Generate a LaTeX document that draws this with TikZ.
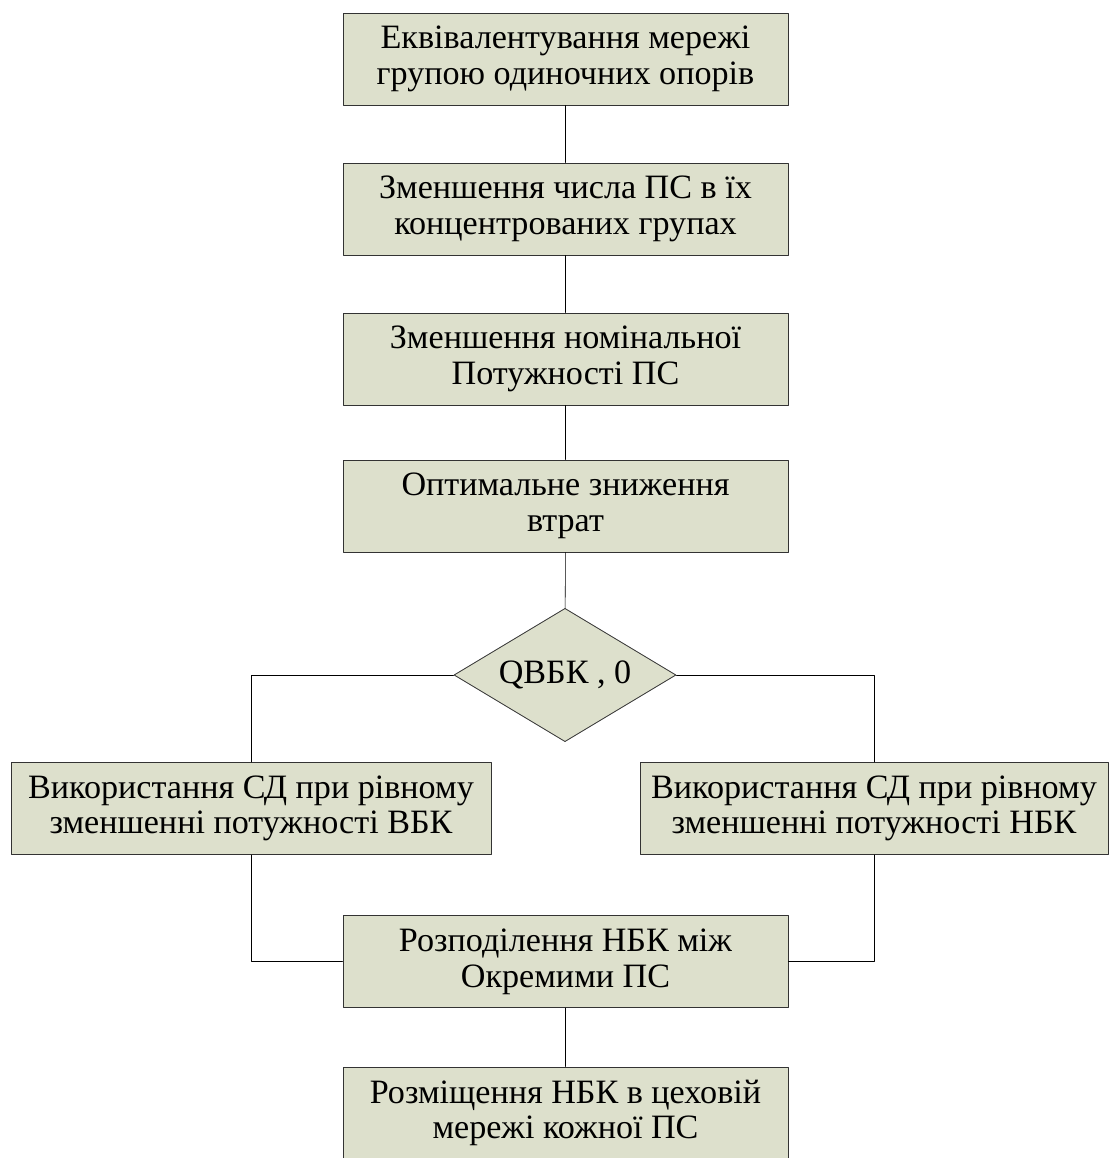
\documentclass[tikz,border=0pt]{standalone}
\usepackage{fontspec}
\setmainfont{Liberation Serif}
\usetikzlibrary{shapes.geometric}
\definecolor{boxfill}{RGB}{221,224,204}
\tikzset{
 stage/.style={draw=black!80, fill=boxfill, line width=0.6pt, minimum width=333.75pt, minimum height=69pt, align=center, inner sep=2pt},
 choice/.style={draw=black!80, fill=boxfill, line width=0.6pt, diamond, aspect=1.67, minimum width=166.5pt, minimum height=100pt, inner sep=0pt}
}
\begin{document}
\begin{tikzpicture}[line cap=round,line join=round,x=0.75pt,y=-0.75pt, font=\fontsize{25.6}{26.8}\selectfont]
 \useasboundingbox (0,0) rectangle (1110,1158);
 \node[stage] (equiv) at (565.5,59) {Еквівалентування мережі\\групою одиночних опорів};
 \node[stage] (fewer) at (565.5,209) {Зменшення числа ПС в їх\\концентрованих групах};
 \node[stage] (power) at (565.5,359) {Зменшення номінальної\\Потужності ПС};
 \node[stage] (losses) at (565.5,506) {Оптимальне зниження\\втрат};
 \node[choice] (qbk) at (565,675) {QВБК , 0};
 \node[stage, minimum width=360pt] (sdv) at (251,808.5) {Використання СД при рівному\\зменшенні потужності ВБК};
 \node[stage, minimum width=351pt] (sdn) at (874,808.5) {Використання СД при рівному\\зменшенні потужності НБК};
 \node[stage] (split) at (565.5,961.5) {Розподілення НБК між\\Окремими ПС};
 \node[stage] (place) at (565.5,1113) {Розміщення НБК в цеховій\\мережі кожної ПС};
 \draw (equiv) -- (fewer);
 \draw (fewer) -- (power);
 \draw (power) -- (losses);
 \draw (losses) -- (qbk);
 \draw (qbk.west) -| (sdv.north);
 \draw (qbk.east) -| (sdn.north);
 \draw (sdv.south) |- (split.west);
 \draw (sdn.south) |- (split.east);
 \draw (split) -- (place);
\end{tikzpicture}
\end{document}
